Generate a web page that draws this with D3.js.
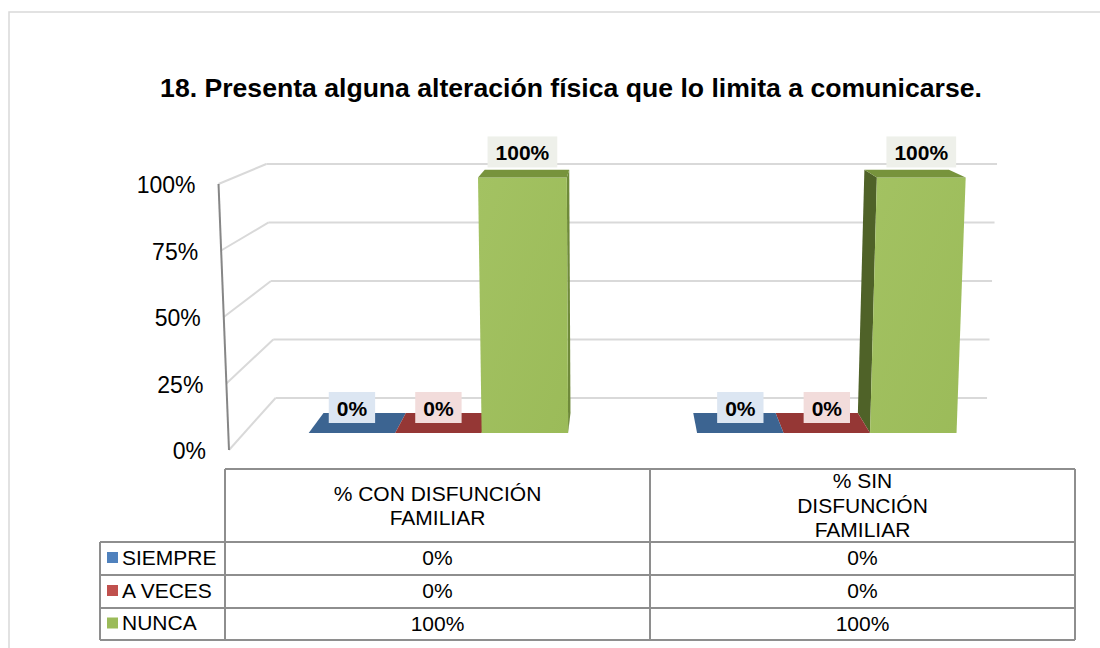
<!DOCTYPE html>
<html>
<head>
<meta charset="utf-8">
<script src="https://cdn.jsdelivr.net/npm/d3@7"></script>
<style>
  html, body { margin: 0; padding: 0; background: #ffffff; }
  svg { display: block; font-family: "Liberation Sans", Arial, sans-serif; }
</style>
</head>
<body>
<script>
// ---- data ----
const categories = ["% CON DISFUNCIÓN FAMILIAR", "% SIN DISFUNCIÓN FAMILIAR"];
const headerLines = [["% CON DISFUNCIÓN", "FAMILIAR"], ["% SIN", "DISFUNCIÓN", "FAMILIAR"]];
const seriesNames = ["SIEMPRE", "A VECES", "NUNCA"];
const siempre = [0, 0];
const aVeces = [0, 0];
const nunca = [100, 100];
const tickValues = [0, 25, 50, 75, 100];
const tickLabels = ["0%", "25%", "50%", "75%", "100%"];
const title = "18. Presenta alguna alteración física que lo limita a comunicarse.";

const seriesValues = [siempre, aVeces, nunca];

// ---- styles ----
const palette = {
  "SIEMPRE": { front: "#4f81bd", top: "#3c6491", side: "#2c4d74", label: "#dce6f2", swatch: "#4f81bd" },
  "A VECES": { front: "#c0504d", top: "#953735", side: "#772c2a", label: "#f2dcdb", swatch: "#c0504d" },
  "NUNCA":   { front: "#9bbb59", top: "#77933c", side: "#4f6228", sideR: "#6f8a3a", label: "#eef0ea", swatch: "#9bbb59" }
};

const W = 1100, H = 648;
const svg = d3.select("body").append("svg").attr("width", W).attr("height", H);

// outer chart frame
svg.append("rect")
  .attr("x", 9).attr("y", 12).attr("width", W).attr("height", H)
  .attr("fill", "none").attr("stroke", "#d9d9d9").attr("stroke-width", 1.5);

// title
svg.append("text")
  .attr("x", 571).attr("y", 97)
  .attr("text-anchor", "middle")
  .attr("font-weight", "bold").attr("font-size", 26.6)
  .attr("fill", "#000")
  .text(title);

// ---- 3D projection ----
const VX = 617, VY = 17;          // vanishing centre
const depthShrink = 0.12;         // scale loss from front wall to back wall
const taper = 0.027;              // widening toward the top
const xWorld = d3.scaleBand().domain(categories).range([229, 1037.5])
  .paddingInner(0.332).paddingOuter(0.166);
const xSeries = d3.scaleBand().domain(seriesNames).range([0, xWorld.bandwidth()]);
const vScale = d3.scaleLinear().domain([0, 100]).range([0, 1]);
const yFront = d3.scaleLinear().domain([0, 100]).range([450, 184]);
const barZ0 = 0.327, barZ1 = 0.712;

function project(X, v, z) {
  const s = 1 - depthShrink * z;
  const t = 1 + taper * vScale(v);
  return [VX + (X - VX) * s * t, VY + (yFront(v) - VY) * s];
}
const line = d3.line();

const [wallX0, wallX1] = xWorld.range();

// gridlines: back wall and side wall
const grid = svg.append("g").attr("stroke", "#d9d9d9").attr("stroke-width", 2).attr("fill", "none");
tickValues.forEach(t => {
  grid.append("path").attr("d", line([project(wallX0, t, 1), project(wallX1, t, 1)]));
  grid.append("path").attr("d", line([project(wallX0, t, 0), project(wallX0, t, 1)]));
});

// vertical axis edge
svg.append("path")
  .attr("d", line([project(wallX0, 0, 0), project(wallX0, 100, 0)]))
  .attr("stroke", "#868686").attr("stroke-width", 2).attr("fill", "none");

// axis tick labels
svg.append("g").selectAll("text").data(tickValues).join("text")
  .attr("x", d => project(wallX0, d, 0)[0] - 23)
  .attr("y", d => project(wallX0, d, 0)[1] + 9)
  .attr("text-anchor", "end").attr("font-size", 23).attr("fill", "#000")
  .text((d, i) => tickLabels[i]);

// bars
const bars = [];
categories.forEach((c, ci) => {
  seriesNames.forEach((s, si) => {
    const X0 = xWorld(c) + xSeries(s);
    const X1 = X0 + xSeries.bandwidth();
    bars.push({ c, s, v: seriesValues[si][ci], X0, X1, cx: (X0 + X1) / 2 });
  });
});
bars.sort((a, b) => Math.abs(b.cx - VX) - Math.abs(a.cx - VX));

const barG = svg.append("g");
const poly = pts => "M" + pts.map(p => p.join(",")).join("L") + "Z";

const grad = svg.append("defs").append("linearGradient").attr("id", "greenFront")
  .attr("x1", 0).attr("y1", 0).attr("x2", 1).attr("y2", 1);
grad.append("stop").attr("offset", 0).attr("stop-color", "#a3c262");
grad.append("stop").attr("offset", 1).attr("stop-color", "#9bbb59");

bars.forEach(b => {
  const col = palette[b.s];
  const P = (X, v, z) => project(X, v, z);
  if (b.v > 0) {
    if (b.X1 < VX) {
      barG.append("path").attr("fill", col.sideR || col.side)
        .attr("d", poly([P(b.X1, 0, barZ0), P(b.X1, b.v, barZ0), P(b.X1, b.v, barZ1), P(b.X1, 0, barZ1)]));
    } else if (b.X0 > VX) {
      barG.append("path").attr("fill", col.side)
        .attr("d", poly([P(b.X0, 0, barZ0), P(b.X0, b.v, barZ0), P(b.X0, b.v, barZ1), P(b.X0, 0, barZ1)]));
    }
    barG.append("path").attr("fill", b.s === "NUNCA" ? "url(#greenFront)" : col.front)
      .attr("d", poly([P(b.X0, 0, barZ0), P(b.X1, 0, barZ0), P(b.X1, b.v, barZ0), P(b.X0, b.v, barZ0)]));
  }
  barG.append("path").attr("fill", col.top)
    .attr("d", poly([P(b.X0, b.v, barZ0), P(b.X1, b.v, barZ0), P(b.X1, b.v, barZ1), P(b.X0, b.v, barZ1)]));
});

// data labels
const labG = svg.append("g");
bars.forEach(b => {
  const [lx, ly] = project(b.cx, b.v, barZ0);
  const txt = b.v + "%";
  const t = labG.append("text")
    .attr("x", lx).attr("y", ly - 17)
    .attr("text-anchor", "middle").attr("font-weight", "bold").attr("font-size", 21)
    .attr("fill", "#000").text(txt);
  const w = t.node().getComputedTextLength() + 16;
  labG.insert("rect", "text")
    .attr("x", lx - w / 2).attr("y", ly - 10 - 31)
    .attr("width", w).attr("height", 31)
    .attr("fill", palette[b.s].label);
});
labG.selectAll("text").raise();

// ---- data table ----
const tbl = { legX: 100, c0: 225, c1: 650, c2: 1075, top: 469, hdr: 542, rows: [542, 575, 608, 640] };
const tG = svg.append("g");
const fs = 21;
const border = tG.append("g").attr("stroke", "#8e8e8e").attr("stroke-width", 2);
border.append("line").attr("x1", tbl.c0).attr("x2", tbl.c2).attr("y1", tbl.top).attr("y2", tbl.top);
tbl.rows.forEach(y => border.append("line").attr("x1", tbl.legX).attr("x2", tbl.c2).attr("y1", y).attr("y2", y));
border.append("line").attr("x1", tbl.legX).attr("x2", tbl.legX).attr("y1", tbl.hdr).attr("y2", tbl.rows[3]);
[tbl.c0, tbl.c1, tbl.c2].forEach(x => border.append("line").attr("x1", x).attr("x2", x).attr("y1", tbl.top).attr("y2", tbl.rows[3]));

const colCenters = [(tbl.c0 + tbl.c1) / 2, (tbl.c1 + tbl.c2) / 2];
const hdrMid = (tbl.top + tbl.hdr) / 2;
headerLines.forEach((lines, ci) => {
  const lh = 24.5;
  lines.forEach((ln, li) => {
    tG.append("text")
      .attr("x", colCenters[ci])
      .attr("y", hdrMid + (li - (lines.length - 1) / 2) * lh + 7.4)
      .attr("text-anchor", "middle").attr("font-size", fs).attr("fill", "#000")
      .text(ln);
  });
});

seriesNames.forEach((s, si) => {
  const mid = (tbl.rows[si] + tbl.rows[si + 1]) / 2;
  tG.append("rect").attr("x", 107).attr("y", mid - 6.5).attr("width", 11).attr("height", 11)
    .attr("fill", palette[s].swatch);
  tG.append("text").attr("x", 122).attr("y", mid + 6)
    .attr("font-size", fs).attr("fill", "#000").text(s);
  seriesValues[si].forEach((v, ci) => {
    tG.append("text").attr("x", colCenters[ci]).attr("y", mid + 6.5)
      .attr("text-anchor", "middle").attr("font-size", fs).attr("fill", "#000")
      .text(v + "%");
  });
});
</script>
</body>
</html>
